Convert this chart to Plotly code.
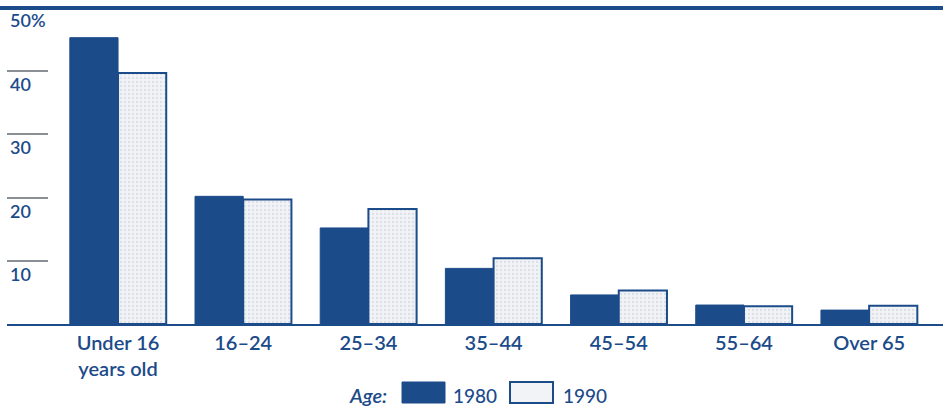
import plotly.graph_objects as go

categories = ["Under 16<br>years old", "16–24", "25–34", "35–44", "45–54", "55–64", "Over 65"]
values_1980 = [45.3, 20.2, 15.2, 8.8, 4.6, 3.0, 2.2]
values_1990 = [39.7, 19.7, 18.2, 10.4, 5.3, 2.8, 2.9]
y_tick_vals = [10, 20, 30, 40, 50]
y_tick_text = ["10", "20", "30", "40", "50%"]

BLUE = "#1c4b8a"
FONT = "Lato"

fig = go.Figure()
fig.add_trace(go.Bar(
    x=list(range(len(categories))), y=values_1980, name="1980",
    marker=dict(color=BLUE, line=dict(color=BLUE, width=1)),
    showlegend=False,
))
fig.add_trace(go.Bar(
    x=list(range(len(categories))), y=values_1990, name="1990",
    marker=dict(color="#f1f3f6", line=dict(color=BLUE, width=2),
                pattern=dict(shape=".", fgcolor="#c5ccd6", bgcolor="#f1f3f6", size=4, solidity=0.25)),
    showlegend=False,
))

fig.update_layout(
    width=943, height=408,
    margin=dict(l=7, r=0, t=8, b=84),
    paper_bgcolor="white", plot_bgcolor="white",
    barmode="group", bargap=0.23, bargroupgap=0,
    font=dict(family=FONT, color=BLUE),
    xaxis=dict(
        range=[-0.887, 6.59],
        tickmode="array", tickvals=list(range(len(categories))), ticktext=categories,
        tickfont=dict(family=FONT, size=20, color=BLUE, weight=600),
        showline=True, linecolor=BLUE, linewidth=2,
        showgrid=False, zeroline=False, ticks="",
    ),
    yaxis=dict(
        range=[0, 50],
        tickmode="array", tickvals=y_tick_vals[:-1],
        showticklabels=False,
        ticks="inside", ticklen=41, tickcolor="#8a8f96", tickwidth=2,
        showgrid=False, zeroline=False, showline=False,
    ),
)

# y tick labels placed just below their tick marks
for v, t in zip(y_tick_vals, y_tick_text):
    fig.add_annotation(
        x=0, xref="paper", xanchor="left", xshift=1,
        y=v, yref="y", yanchor="top", yshift=0 if v < 50 else 1,
        text=t, showarrow=False,
        font=dict(family=FONT, size=18, color=BLUE, weight=600),
    )

# top rule
fig.add_shape(type="line", xref="paper", yref="paper",
              x0=-0.01, x1=1.0, y0=1.0, y1=1.0,
              line=dict(color=BLUE, width=4))

# custom legend (paper coordinates, pixel-based)
W, H = 943 - 7, 408 - 8 - 84

def px(x):
    return (x - 7) / W

def py(y):
    return (408 - 84 - y) / H

fig.add_annotation(x=px(389), y=py(395), xref="paper", yref="paper", xanchor="right", yanchor="middle",
                   text="<i>Age:</i>", showarrow=False,
                   font=dict(family=FONT, size=20, color=BLUE, weight=600))
fig.add_shape(type="rect", xref="paper", yref="paper", x0=px(402), x1=px(445), y0=py(403), y1=py(382),
              fillcolor=BLUE, line=dict(color=BLUE, width=1))
fig.add_annotation(x=px(451), y=py(395), xref="paper", yref="paper", xanchor="left", yanchor="middle",
                   text="1980", showarrow=False,
                   font=dict(family=FONT, size=19, color=BLUE, weight=500))
fig.add_shape(type="rect", xref="paper", yref="paper", x0=px(510), x1=px(553), y0=py(403), y1=py(382),
              fillcolor="#f1f3f6", line=dict(color=BLUE, width=2))
fig.add_annotation(x=px(561), y=py(395), xref="paper", yref="paper", xanchor="left", yanchor="middle",
                   text="1990", showarrow=False,
                   font=dict(family=FONT, size=19, color=BLUE, weight=500))

fig.write_html("out.html", config={"displayModeBar": False},
               post_script="document.body.style.margin='0';document.body.style.overflow='hidden';")
